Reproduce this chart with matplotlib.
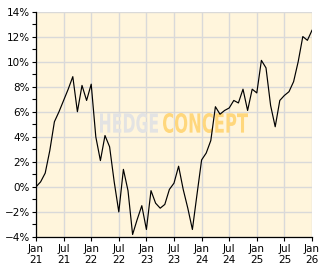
import matplotlib
matplotlib.use("Agg")
import matplotlib.pyplot as plt
import numpy as np
from matplotlib.textpath import TextPath
from matplotlib.patches import PathPatch
from matplotlib.font_manager import FontProperties
from matplotlib.transforms import Affine2D

# month-end performance in %, Jan 21 .. Jan 26
perf = [0.0, 0.4, 1.1, 2.9, 5.2, 6.0, 6.9, 7.8, 8.8, 6.0, 8.1, 6.9,
        8.2, 4.0, 2.1, 4.1, 3.2, 0.4, -2.0, 1.4, -0.3, -3.8, -2.6, -1.5,
        -3.4, -0.3, -1.3, -1.7, -1.4, -0.2, 0.3, 1.65, -0.2, -1.7, -3.4, -0.6,
        2.15, 2.7, 3.7, 6.4, 5.8, 6.1, 6.3, 6.9, 6.7, 7.8, 6.1, 7.8,
        7.5, 10.1, 9.5, 6.5, 4.8, 6.9, 7.3, 7.6, 8.4, 10.0, 12.0, 11.7,
        12.5]
xlabels = ["Jan\n21", "Jul\n21", "Jan\n22", "Jul\n22", "Jan\n23", "Jul\n23",
           "Jan\n24", "Jul\n24", "Jan\n25", "Jul\n25", "Jan\n26"]
yticks = [-4, -2, 0, 2, 4, 6, 8, 10, 12, 14]

months = np.arange(len(perf))
W, H = 332, 269

fig = plt.figure(figsize=(W / 100, H / 100), dpi=100)
ax = fig.add_axes([36/W, 32/H, 276/W, 225.5/H])
ax.set_facecolor("#fff5dc")

ax.plot(months, perf, color="black", linewidth=0.85, zorder=3)


def logo_word(word, x0, x1, ytop, ybot, color):
    # squeeze a bold word into a pixel box (condensed logo look)
    tp = TextPath((0, 0), word, size=1,
                  prop=FontProperties(family="DejaVu Sans", weight="bold"))
    ext = tp.get_extents()
    sx = (x1 - x0) / ext.width
    sy = (ybot - ytop) / ext.height
    tr = Affine2D().translate(-ext.x0, -ext.y0).scale(sx, sy).translate(x0, H - ybot)
    ax.add_patch(PathPatch(tp, transform=tr, facecolor=color, edgecolor="none",
                           zorder=2, clip_on=False))


logo_word("HEDGE", 100, 158, 113, 133, "#e3e3e3")
logo_word("CONCEPT", 163, 248, 113, 133, "#ffd77c")

ax.set_xlim(0, 60)
ax.set_ylim(-4, 14)
ax.set_xticks(np.arange(0, 61, 6))
ax.set_xticklabels(xlabels)
ax.set_yticks(yticks)
ax.set_yticklabels([f"{v}%".replace("-", "\u2212") for v in yticks])
ax.set_yticks(np.arange(-3, 14, 2), minor=True)

ax.grid(True, color="#d9d9d9", linewidth=1.0, zorder=1)
ax.set_axisbelow(True)
for s in ["top", "right"]:
    ax.spines[s].set_visible(False)
for s in ["left", "bottom"]:
    ax.spines[s].set_color("black")
    ax.spines[s].set_linewidth(0.9)

ax.tick_params(axis="both", which="major", length=3, width=0.8, labelsize=7.5,
               pad=1.5)
ax.tick_params(axis="y", which="minor", length=3, width=0.8)
ax.tick_params(axis="x", labelsize=7.5, pad=2)
for lab in ax.get_xticklabels():
    lab.set_linespacing(1.1)

fig.savefig("out.png", dpi=100)
